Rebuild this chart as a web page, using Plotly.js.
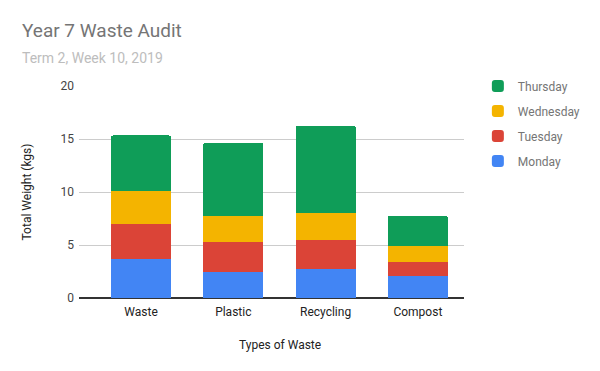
<!DOCTYPE html>
<html><head><meta charset="utf-8">
<script src="https://cdn.plot.ly/plotly-3.0.1.min.js"></script>
<style>html,body{margin:0;padding:0;background:#fff}#chart{width:600px;height:371px}</style>
</head><body><div id="chart"></div>
<script>
const categories = ["Waste", "Plastic", "Recycling", "Compost"];
const monday = [3.66, 2.5, 2.74, 2.1];
const tuesday = [3.36, 2.74, 2.77, 1.32];
const wednesday = [3.12, 2.46, 2.52, 1.51];
const thursday = [5.2, 6.96, 8.23, 2.81];
const seriesNames = ["Monday", "Tuesday", "Wednesday", "Thursday"];
const seriesColors = ["#4285F4", "#DB4437", "#F4B400", "#0F9D58"];
const yTicks = [0, 5, 10, 15, 20];

const values = [monday, tuesday, wednesday, thursday];
const traces = values.map((v, i) => ({
  type: "bar", x: categories, y: v, name: seriesNames[i],
  legendgroup: "g" + i,
  legendrank: 100 - i,
  marker: {color: seriesColors[i]},
  hoverinfo: "none"
}));

const layout = {
  width: 600, height: 371,
  margin: {l: 79, r: 136, t: 86, b: 73},
  font: {family: "Roboto, Arial, sans-serif", size: 12, color: "#444"},
  paper_bgcolor: "#fff", plot_bgcolor: "#fff",
  barmode: "stack", bargap: 0.35, barcornerradius: 2,
  showlegend: true,
  legend: {x: 1.036, xanchor: "left", y: 1.068, yanchor: "top",
    traceorder: "grouped", tracegroupgap: 6,
    font: {size: 12, color: "#757575"}},
  xaxis: {range: [-0.672, 3.5], showgrid: false, zeroline: false,
    showline: false, ticks: "", ticklabelstandoff: 5, tickfont: {size: 12, color: "#222"},
    fixedrange: true},
  yaxis: {range: [0, 20], tickvals: yTicks, ticktext: yTicks.map(String),
    gridcolor: "#cccccc", gridwidth: 1, zeroline: true, zerolinecolor: "#333",
    zerolinewidth: 1.5, showline: false, ticks: "", ticklen: 0, ticklabelstandoff: 4,
    tickfont: {size: 12, color: "#444"},
    title: {text: "Total Weight (kgs)", font: {size: 12, color: "#222"}, standoff: 26},
    fixedrange: true},
  annotations: [
    {text: "Year 7 Waste Audit", xref: "paper", yref: "paper", x: -0.153, y: 1.0, xanchor: "left", yanchor: "bottom",
     showarrow: false, font: {size: 19, color: "#757575"}, yshift: 42},
    {text: "Term 2, Week 10, 2019", xref: "paper", yref: "paper", x: -0.153, y: 1.0, xanchor: "left", yanchor: "bottom",
     showarrow: false, font: {size: 14, color: "#bdbdbd"}, yshift: 18},
    {text: "Types of Waste", xref: "paper", yref: "paper", x: 0.521, y: 0, xanchor: "center", yanchor: "top",
     showarrow: false, font: {size: 12, color: "#222"}, yshift: -38}
  ]
};
Plotly.newPlot("chart", traces, layout, {displayModeBar: false, staticPlot: true});
</script></body></html>
